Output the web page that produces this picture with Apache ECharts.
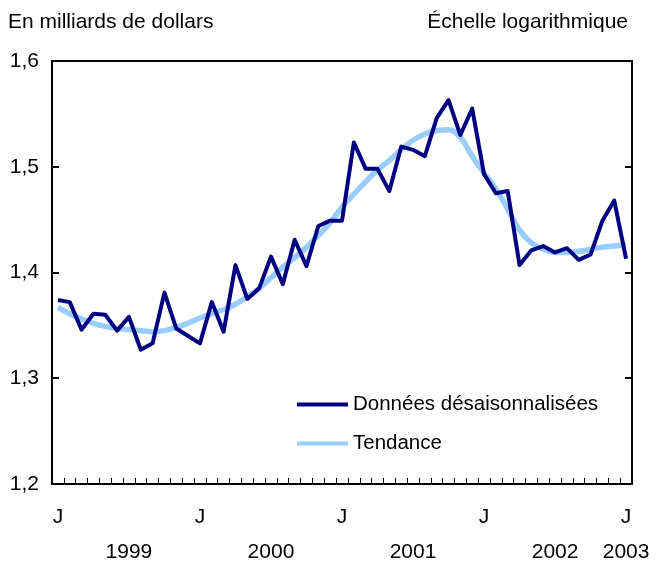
<!DOCTYPE html>
<html>
<head>
<meta charset="utf-8">
<script src="https://cdn.jsdelivr.net/npm/echarts@6/dist/echarts.min.js"></script>
<style>
  html, body { margin: 0; padding: 0; background: #fff; }
  #chart { width: 657px; height: 565px; }
</style>
</head>
<body>
<div id="chart"></div>
<script>
// mois de janvier 1999 a janvier 2003
const years = ['1999', '2000', '2001', '2002', '2003']
const months = []
for (let y = 1999; y <= 2003; y++) {
  for (let m = 1; m <= 12; m++) {
    if (y === 2003 && m > 1) break
    months.push(y + '-' + (m < 10 ? '0' + m : m))
  }
}

const donnees = [
  1.374, 1.372, 1.346, 1.361, 1.360, 1.345, 1.358, 1.327, 1.333, 1.381, 1.347, 1.340,
  1.333, 1.372, 1.344, 1.407, 1.375, 1.385, 1.415, 1.389, 1.431, 1.406, 1.444, 1.449,
  1.449, 1.523, 1.498, 1.498, 1.477, 1.519, 1.516, 1.510, 1.546, 1.563, 1.530, 1.555,
  1.493, 1.475, 1.477, 1.407, 1.421, 1.425, 1.419, 1.423, 1.412, 1.417, 1.449, 1.468,
  1.413
]

const tendance = [
  1.367, 1.361, 1.356, 1.352, 1.349, 1.347, 1.346, 1.345, 1.344, 1.345, 1.348, 1.352,
  1.357, 1.361, 1.365, 1.370, 1.377, 1.385, 1.395, 1.405, 1.414, 1.424, 1.435, 1.447,
  1.462, 1.474, 1.486, 1.497, 1.506, 1.516, 1.525, 1.531, 1.534, 1.535, 1.528, 1.510,
  1.494, 1.479, 1.460, 1.440, 1.428, 1.422, 1.419, 1.419, 1.420, 1.422, 1.424, 1.425,
  1.426
]

const font = 'Liberation Sans, Arial, sans-serif'
const fs = 21
const chart = echarts.init(document.getElementById('chart'))

const option = {
  animation: false,
  textStyle: { fontFamily: font },
  title: [
    { text: 'En milliards de dollars', left: 3, top: 7,
      textStyle: { fontSize: fs, fontWeight: 'normal', color: '#000', fontFamily: font } },
    { text: 'Échelle logarithmique', right: 24, top: 7,
      textStyle: { fontSize: fs, fontWeight: 'normal', color: '#000', fontFamily: font } }
  ],
  grid: { left: 52, right: 25, top: 61, bottom: 81 },
  legend: {
    orient: 'vertical',
    left: 292,
    top: 389,
    itemWidth: 51,
    itemHeight: 4,
    itemGap: 18,
    textStyle: { fontSize: 20.5, color: '#000', fontFamily: font },
    data: [
      { name: 'Données désaisonnalisées', icon: 'rect' },
      { name: 'Tendance', icon: 'rect' }
    ]
  },
  xAxis: [
    {
      type: 'category',
      data: months,
      boundaryGap: true,
      axisLine: { lineStyle: { color: '#000', width: 2 } },
      axisTick: { show: true, inside: true, length: 6, interval: 0, lineStyle: { color: '#000', width: 1 } },
      axisLabel: {
        interval: 0, margin: 23, fontSize: fs, color: '#000', fontFamily: font,
        formatter: (v, i) => (i % 12 === 0 ? 'J' : '')
      }
    },
    {
      type: 'category',
      data: months,
      boundaryGap: true,
      position: 'bottom',
      axisLine: { show: false },
      axisTick: { show: false },
      axisLabel: {
        interval: 0, margin: 58, fontSize: fs, color: '#000', fontFamily: font,
        formatter: (v, i) => {
          if (i % 12 === 6) return years[(i - 6) / 12]
          if (i === months.length - 1) return years[years.length - 1]
          return ''
        }
      }
    },
    {
      type: 'category',
      data: months,
      position: 'top',
      axisLine: { lineStyle: { color: '#000', width: 2 } },
      axisTick: { show: false },
      axisLabel: { show: false }
    }
  ],
  yAxis: [
    {
      type: 'value',
      min: 1.2, max: 1.6, interval: 0.1,
      splitLine: { show: false },
      axisLine: { show: true, lineStyle: { color: '#000', width: 2 } },
      axisTick: { show: true, inside: true, length: 7, lineStyle: { color: '#000', width: 2 } },
      axisLabel: {
        margin: 13, fontSize: fs, color: '#000', fontFamily: font,
        formatter: v => v.toFixed(1).replace('.', ',')
      }
    },
    {
      type: 'value',
      position: 'right',
      min: 1.2, max: 1.6, interval: 0.1,
      splitLine: { show: false },
      axisLine: { show: true, lineStyle: { color: '#000', width: 2 } },
      axisTick: { show: true, inside: true, length: 7, lineStyle: { color: '#000', width: 2 } },
      axisLabel: { show: false }
    }
  ],
  series: [
    {
      name: 'Tendance',
      type: 'line',
      data: tendance,
      smooth: 0.3,
      symbol: 'none',
      z: 2,
      lineStyle: { color: '#99ccff', width: 5.5 },
      itemStyle: { color: '#99ccff' }
    },
    {
      name: 'Données désaisonnalisées',
      type: 'line',
      data: donnees,
      symbol: 'none',
      z: 3,
      lineStyle: { color: '#000080', width: 4, join: 'round' },
      itemStyle: { color: '#000080' }
    }
  ]
}

chart.setOption(option)
</script>
</body>
</html>
